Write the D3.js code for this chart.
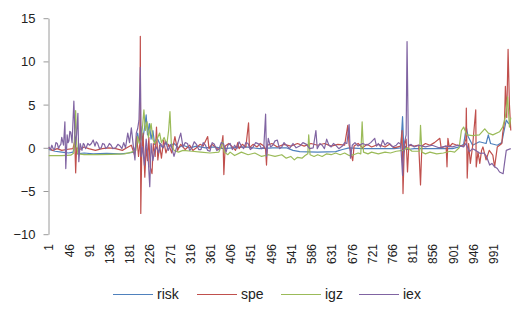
<!doctype html>
<html>
<head>
<meta charset="utf-8">
<script src="https://d3js.org/d3.v7.min.js"></script>
<style>
  body { margin: 0; padding: 0; background: #fff; }
  svg { display: block; font-family: "Liberation Sans", Arial, sans-serif; }
  .yaxis text { font-size: 13px; fill: #222; }
  .yaxis line, .yaxis path { stroke: #9a9a9a; }
  .xaxis text { font-size: 12px; fill: #222; }
  .legend text { font-size: 14px; fill: #222; }
  path.series { fill: none; stroke-width: 1.2; stroke-linejoin: round; }
</style>
</head>
<body>
<div id="chart"></div>
<script>
// category count and axis labels
var nCats = 1030;
var xLabels = d3.range(1, 992, 45);
var yTicks = [-10, -5, 0, 5, 10, 15];
var seriesNames = ["risk", "spe", "igz", "iex"];
var seriesColors = ["#4f81bd", "#c0504d", "#9bbb59", "#8064a2"];

// [category, value]
var risk = [[1,-0.2],[15,-0.4],[30,-0.5],[45,-0.6],[55,-0.5],[60,0.4],[64,-0.7],[80,-0.6],[100,-0.7],[130,-0.65],[160,-0.7],[180,-0.6],[190,-0.5],[196,0.3],[199,1.7],[203,0.5],[206,2.5],[210,0.8],[214,2.2],[218,3.8],[221,1.5],[225,2.8],[229,1.0],[233,2.0],[237,0.4],[242,1.2],[248,0.5],[255,0.0],[262,0.6],[270,0.2],[280,0.5],[290,0.0],[300,0.3],[315,0.0],[330,0.2],[350,0.0],[370,0.1],[390,-0.1],[410,0.0],[440,0.1],[470,-0.1],[500,0.0],[530,0.0],[545,-0.3],[560,-0.45],[600,-0.5],[640,-0.45],[655,-0.2],[670,0.0],[700,-0.1],[740,-0.1],[770,-0.1],[785,0.0],[789,3.6],[792,-0.5],[796,0.2],[800,-0.2],[815,-0.1],[840,-0.1],[870,-0.1],[900,-0.1],[915,0.1],[925,0.4],[931,2.4],[935,1.3],[945,0.3],[960,0.7],[975,0.5],[980,1.5],[985,0.5],[1000,0.3],[1010,0.6],[1014,1.7],[1020,3.2],[1025,2.8],[1030,3.0]];

var spe = [[1,0.0],[10,-0.3],[20,-0.1],[30,-0.3],[40,-0.2],[55,-0.1],[59,0.8],[61,-2.9],[63,0.0],[70,-0.2],[80,0.1],[90,-0.1],[105,-0.3],[120,-0.1],[135,0.0],[150,-0.1],[165,-0.3],[175,0.0],[185,0.3],[192,-0.8],[197,1.3],[201,-1.0],[204,0.5],[205,12.9],[206,-7.6],[208,-1.0],[211,1.7],[215,-3.4],[218,0.1],[221,-1.5],[224,1.2],[227,-2.2],[231,-3.0],[234,0.5],[238,-1.0],[241,2.4],[244,-1.4],[248,0.3],[252,-1.2],[257,0.9],[262,-0.6],[268,0.4],[275,-0.6],[282,1.3],[288,-0.3],[295,0.4],[305,-0.2],[315,0.3],[322,-0.3],[330,0.0],[338,0.4],[345,0.2],[355,1.3],[358,-0.1],[364,0.4],[370,0.2],[378,-0.2],[385,0.0],[389,1.4],[391,-3.1],[394,0.2],[402,0.5],[410,0.1],[417,-0.3],[422,0.6],[425,-0.1],[432,0.4],[440,0.1],[446,2.9],[448,0.0],[456,0.4],[465,0.1],[472,0.5],[480,0.2],[484,-0.2],[486,-2.0],[488,0.3],[498,0.5],[510,0.1],[525,0.4],[540,0.2],[555,0.5],[570,0.2],[585,0.5],[600,0.3],[615,0.5],[630,0.2],[645,0.4],[660,0.3],[667,2.6],[670,0.3],[678,-1.5],[681,0.2],[690,0.5],[700,0.0],[710,0.4],[720,0.1],[735,0.4],[750,0.1],[760,0.4],[770,0.0],[785,0.2],[788,2.0],[790,-5.3],[793,0.3],[797,1.0],[800,-2.8],[803,0.3],[815,0.2],[825,0.3],[829,-4.3],[832,0.2],[840,0.5],[850,0.3],[860,0.6],[872,1.1],[875,0.0],[886,0.2],[888,-2.2],[890,1.1],[893,0.1],[900,0.5],[910,0.3],[925,0.2],[930,1.0],[931,4.6],[933,-3.5],[936,0.5],[940,-1.8],[945,0.2],[952,4.4],[953,-2.2],[957,-0.5],[961,-1.8],[965,-0.3],[968,0.1],[975,-1.4],[982,-0.3],[990,-0.85],[994,-2.2],[1000,0.1],[1010,0.5],[1012,1.7],[1016,3.0],[1018,7.1],[1021,3.5],[1024,11.4],[1027,5.0],[1030,2.0]];

var igz = [[1,-0.9],[30,-0.9],[50,-0.85],[57,-0.6],[59,2.0],[61,4.3],[63,0.5],[66,-0.7],[80,-0.8],[110,-0.8],[140,-0.75],[170,-0.7],[185,-0.5],[195,-0.3],[199,1.3],[203,0.5],[207,1.0],[210,2.5],[213,4.4],[216,2.0],[220,3.0],[223,1.2],[229,2.8],[233,1.0],[237,0.5],[242,1.0],[248,1.7],[252,0.6],[258,1.2],[264,0.4],[268,2.0],[271,4.2],[274,0.5],[280,-0.3],[290,-0.5],[300,-0.3],[320,-0.4],[340,-0.5],[360,-0.6],[380,-0.5],[389,0.7],[392,-0.5],[400,-0.8],[405,-0.5],[415,-0.9],[430,-0.5],[445,-0.8],[460,-0.6],[475,-1.0],[490,-0.8],[505,-1.0],[520,-0.8],[530,-1.2],[540,-1.0],[548,-1.4],[555,-1.1],[565,-1.2],[572,-0.9],[578,-0.7],[580,1.5],[583,-0.8],[592,-1.0],[600,-0.8],[610,-1.0],[620,-0.7],[630,-0.8],[640,-0.6],[650,-0.8],[660,-0.6],[670,-0.9],[680,-0.8],[690,-0.6],[696,-0.7],[699,3.0],[702,-0.5],[712,-0.7],[720,-0.5],[735,-0.7],[750,-0.5],[762,-0.6],[775,-0.4],[790,-0.3],[800,0.0],[810,-0.4],[827,-0.4],[829,2.6],[832,-0.5],[840,-0.7],[850,-0.5],[865,-0.7],[880,-0.6],[895,-0.4],[905,-0.5],[915,0.0],[920,2.0],[925,2.4],[932,1.5],[945,1.4],[960,1.5],[972,2.2],[980,1.7],[990,1.5],[1005,1.85],[1012,2.4],[1018,3.6],[1023,5.9],[1027,2.4],[1030,3.5]];

var iex = [[1,0.1],[5,-0.2],[8,0.3],[11,-0.1],[14,-0.2],[17,0.6],[20,0.5],[23,-0.1],[25,0.2],[28,0.4],[30,1.2],[34,0.3],[37,3.0],[39,-2.4],[42,1.5],[44,0.6],[46,0.8],[48,1.9],[50,1.8],[53,0.6],[57,5.4],[60,0.4],[63,1.5],[66,4.0],[68,-1.6],[71,0.5],[75,-0.3],[78,0.5],[80,0.4],[83,-0.1],[85,0.1],[88,0.5],[92,0.3],[96,0.5],[100,0.9],[104,0.2],[107,0.7],[110,0.5],[114,-0.1],[118,0.0],[121,0.5],[125,0.4],[128,-0.1],[132,0.1],[136,0.5],[140,0.3],[144,-0.1],[150,0.0],[155,0.4],[160,0.2],[164,-0.1],[168,0.6],[172,0.0],[177,1.7],[181,0.6],[185,2.3],[189,0.4],[193,-1.4],[196,1.7],[199,2.2],[202,3.2],[205,9.3],[207,-1.0],[210,0.1],[214,-2.0],[218,1.0],[222,-0.8],[226,-4.5],[229,0.5],[233,-1.5],[237,-0.3],[241,0.1],[246,-0.6],[250,0.5],[256,0.0],[262,0.7],[267,-0.3],[273,0.4],[280,-1.0],[287,0.3],[295,1.7],[300,0.1],[305,0.6],[310,0.5],[315,-0.3],[320,0.0],[325,0.7],[330,0.4],[335,-0.2],[340,-0.2],[345,0.6],[350,0.3],[355,-0.3],[360,-0.4],[365,0.6],[370,0.4],[375,-0.3],[380,-0.2],[385,0.6],[390,0.5],[396,-0.5],[400,0.3],[405,0.5],[410,-0.2],[415,0.3],[420,-0.1],[425,0.7],[430,0.2],[435,-0.1],[440,0.6],[445,0.5],[450,-0.2],[455,0.0],[462,0.6],[470,0.4],[475,-0.1],[480,0.1],[484,3.9],[486,-1.0],[490,1.1],[495,0.1],[500,0.3],[505,0.8],[510,0.9],[515,-0.1],[520,0.1],[525,0.6],[530,0.3],[537,-0.1],[545,0.5],[552,0.0],[560,0.2],[567,0.6],[575,0.4],[582,-0.1],[590,0.0],[596,2.0],[599,-0.1],[605,0.5],[610,0.3],[615,-0.1],[620,1.0],[625,0.3],[630,0.1],[635,0.5],[640,0.3],[647,-0.1],[655,0.2],[660,0.6],[665,0.5],[670,2.7],[673,-1.2],[677,0.3],[683,0.6],[690,0.2],[700,0.5],[710,0.3],[718,0.6],[727,1.1],[731,0.2],[735,0.5],[740,0.1],[745,0.9],[750,0.3],[755,0.6],[760,0.5],[767,0.1],[775,0.3],[780,0.6],[785,0.4],[789,-3.2],[792,0.3],[797,1.5],[799,12.3],[802,0.2],[808,0.4],[815,0.1],[825,0.3],[840,0.1],[855,0.3],[870,0.0],[885,0.2],[900,0.1],[912,0.3],[925,0.1],[930,0.5],[938,-0.45],[945,-0.1],[952,-0.3],[962,-0.65],[970,-0.6],[976,-1.0],[983,-2.0],[988,-1.8],[994,-2.2],[1000,-2.4],[1005,-2.8],[1013,-3.0],[1016,-1.8],[1020,-0.3],[1030,-0.1]];

var allSeries = [risk, spe, igz, iex];

var width = 531, height = 309;
var svg = d3.select("#chart").append("svg")
    .attr("width", width)
    .attr("height", height);

var x = d3.scaleLinear().domain([0.5, nCats + 0.5]).range([48.5, 511]);
var y = d3.scaleLinear().domain([-10, 15]).range([234.2, 18.2]);

// y axis
var yAxis = svg.append("g")
    .attr("class", "yaxis")
    .attr("transform", "translate(48.5,0)")
    .call(d3.axisLeft(y).tickValues(yTicks).tickSize(5).tickSizeOuter(0).tickPadding(8));
yAxis.selectAll("text").attr("dy", "0.35em");

// x axis labels (no line, rotated)
var xAxis = svg.append("g")
    .attr("class", "xaxis")
    .attr("transform", "translate(0,244)")
    .call(d3.axisBottom(x).tickValues(xLabels).tickSize(0).tickPadding(0).tickFormat(d3.format("d")));
xAxis.select(".domain").remove();
xAxis.selectAll("text")
    .attr("transform", "rotate(-90)")
    .attr("x", 0)
    .attr("y", 0)
    .attr("dy", "0.35em")
    .style("text-anchor", "end");

var line = d3.line()
    .x(function(d) { return x(d[0]); })
    .y(function(d) { return y(d[1]); });

svg.append("g").selectAll("path")
    .data(allSeries)
  .enter().append("path")
    .attr("class", "series")
    .attr("d", line)
    .attr("stroke", function(d, i) { return seriesColors[i]; });

// legend
var legendX = [113, 197, 281, 359];
var legend = svg.append("g").attr("class", "legend");
seriesNames.forEach(function(name, i) {
  legend.append("line")
      .attr("x1", legendX[i]).attr("x2", legendX[i] + 40)
      .attr("y1", 294.5).attr("y2", 294.5)
      .attr("stroke", seriesColors[i]).attr("stroke-width", 1);
  legend.append("text")
      .attr("x", legendX[i] + 44).attr("y", 294.5)
      .attr("dy", "0.35em")
      .text(name);
});
</script>
</body>
</html>
